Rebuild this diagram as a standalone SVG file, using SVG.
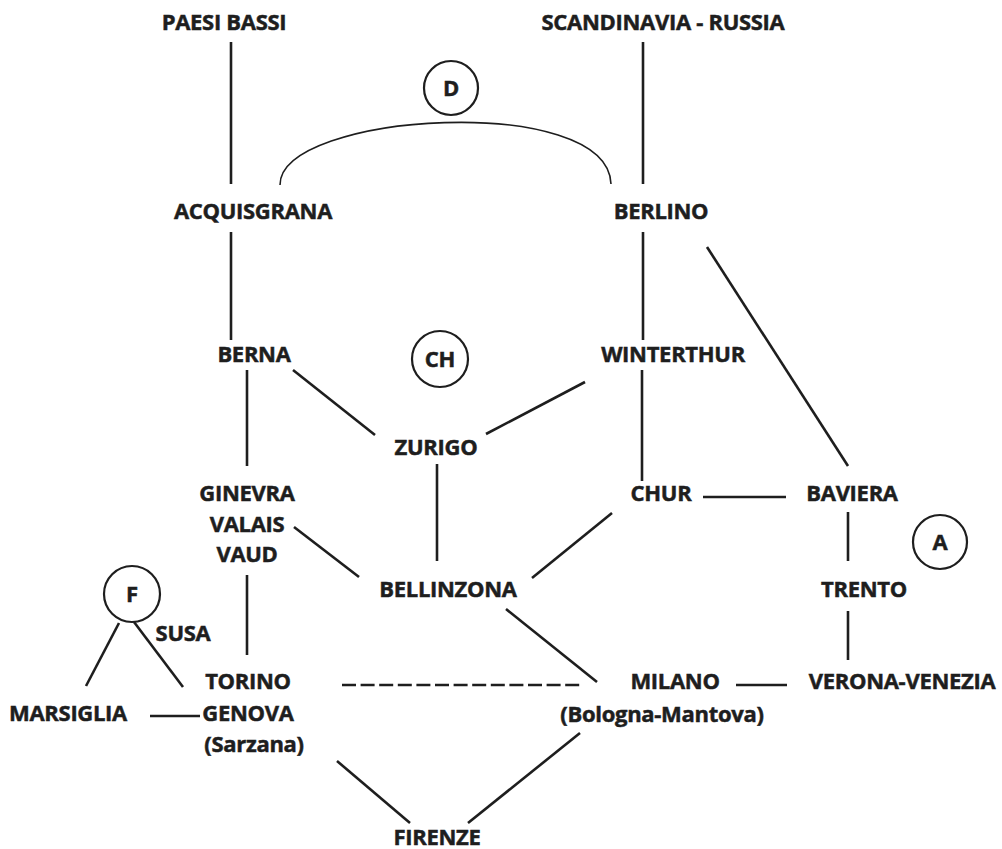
<svg xmlns="http://www.w3.org/2000/svg" width="1002" height="849" viewBox="0 0 1002 849">
<style>
text{font-family:"Open Sans","Liberation Sans",sans-serif;font-weight:700;font-size:22px;fill:#1e1e1e;stroke:#1e1e1e;stroke-width:0.5;text-anchor:middle;letter-spacing:-0.3px}
.c line,.c path{stroke:#1e1e1e;stroke-width:2.6;fill:none}
.c path.arc{stroke-width:1.6}
.circ{fill:none;stroke:#1e1e1e;stroke-width:2.2}
</style>
<rect width="1002" height="849" fill="#ffffff"/>
<g class="c" id="connectors">
<line x1="231" y1="42" x2="231" y2="184"/>
<line x1="643" y1="42" x2="643" y2="184"/>
<path class="arc" d="M280,185 C280,112 608,92 611,184"/>
<line x1="231" y1="232" x2="231" y2="340"/>
<line x1="643" y1="232" x2="643" y2="340"/>
<line x1="707" y1="247" x2="848" y2="466"/>
<line x1="293" y1="370" x2="375" y2="435"/>
<line x1="585" y1="382" x2="486" y2="434"/>
<line x1="247" y1="370" x2="247" y2="466"/>
<line x1="437" y1="464" x2="437" y2="561"/>
<line x1="642" y1="370" x2="642" y2="481"/>
<line x1="703" y1="497" x2="786" y2="497"/>
<line x1="848" y1="512" x2="848" y2="561"/>
<line x1="848" y1="611" x2="848" y2="660"/>
<line x1="294" y1="527" x2="359" y2="577"/>
<line x1="612" y1="513" x2="532" y2="578"/>
<line x1="247" y1="575" x2="247" y2="655"/>
<line x1="506" y1="609" x2="597" y2="682"/>
<line x1="342" y1="685" x2="582" y2="685" stroke-dasharray="14,4.6"/>
<line x1="736" y1="685" x2="787" y2="685"/>
<line x1="150" y1="716" x2="200" y2="716"/>
<line x1="119" y1="623" x2="86" y2="686"/>
<line x1="134" y1="622" x2="183" y2="687"/>
<line x1="337" y1="761" x2="410" y2="823"/>
<line x1="580" y1="733" x2="468" y2="823"/>
</g>
<g id="paesi-bassi"><text x="224" y="30">PAESI BASSI</text></g>
<g id="scandinavia"><text x="663" y="30">SCANDINAVIA - RUSSIA</text></g>
<g id="D"><circle class="circ" cx="451" cy="88" r="27"/><text x="451" y="96">D</text></g>
<g id="acquisgrana"><text x="253" y="219">ACQUISGRANA</text></g>
<g id="berlino"><text x="661" y="219">BERLINO</text></g>
<g id="berna"><text x="254" y="362">BERNA</text></g>
<g id="CH"><circle class="circ" cx="440" cy="359" r="28"/><text x="440" y="367">CH</text></g>
<g id="winterthur"><text x="673" y="362">WINTERTHUR</text></g>
<g id="zurigo"><text x="436" y="455">ZURIGO</text></g>
<g id="ginevra"><text x="247" y="501">GINEVRA</text><text x="247" y="532">VALAIS</text><text x="247" y="562">VAUD</text></g>
<g id="chur"><text x="661" y="501">CHUR</text></g>
<g id="baviera"><text x="852" y="501">BAVIERA</text></g>
<g id="A"><circle class="circ" cx="940" cy="542" r="27"/><text x="940" y="550">A</text></g>
<g id="bellinzona"><text x="448" y="597">BELLINZONA</text></g>
<g id="trento"><text x="864" y="597">TRENTO</text></g>
<g id="F"><circle class="circ" cx="132" cy="594" r="28"/><text x="132" y="602">F</text></g>
<g id="susa"><text x="183" y="641">SUSA</text></g>
<g id="torino"><text x="248" y="689">TORINO</text></g>
<g id="milano"><text x="675" y="689">MILANO</text><text x="662" y="722">(Bologna-Mantova)</text></g>
<g id="verona"><text x="902" y="689">VERONA-VENEZIA</text></g>
<g id="marsiglia"><text x="68" y="721">MARSIGLIA</text></g>
<g id="genova"><text x="248" y="721">GENOVA</text><text x="254" y="752">(Sarzana)</text></g>
<g id="firenze"><text x="437" y="845">FIRENZE</text></g>
</svg>
